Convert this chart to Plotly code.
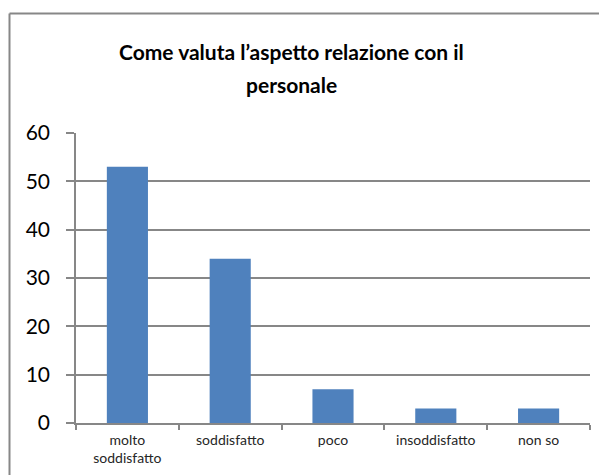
import plotly.graph_objects as go

# data
categories = ["molto<br>soddisfatto", "soddisfatto", "poco", "insoddisfatto", "non so"]
values = [53, 34, 7, 3, 3]
title_lines = ["Come valuta l\u2019aspetto relazione con il", "personale"]

font_family = "Lato, Carlito, Calibri, sans-serif"
grey = "#878787"

fig = go.Figure(
    go.Bar(
        x=categories,
        y=values,
        marker=dict(color="#4F81BD", line=dict(width=0)),
    )
)

# plot area is 76..590 x 133..423 px
fig.update_layout(
    width=599,
    height=475,
    margin=dict(l=76, r=9, t=133, b=52),
    paper_bgcolor="white",
    plot_bgcolor="white",
    bargap=0.6,
    showlegend=False,
    font=dict(family=font_family, color="black"),
)

fig.update_yaxes(
    range=[0, 60],
    tickvals=[0, 10, 20, 30, 40, 50, 60],
    showgrid=True,
    gridcolor=grey,
    gridwidth=1.5,
    showline=True,
    linecolor=grey,
    linewidth=1.5,
    ticks="outside",
    ticklen=8,
    tickcolor=grey,
    tickwidth=1.5,
    tickfont=dict(size=21, color="black"),
    ticklabelstandoff=12,
    zeroline=False,
    fixedrange=True,
)

fig.update_xaxes(
    showline=True,
    linecolor=grey,
    linewidth=1.5,
    ticks="outside",
    tickson="boundaries",
    ticklen=5,
    tickcolor=grey,
    tickwidth=1.5,
    tickfont=dict(size=14, color="#262626"),
    ticklabelstandoff=3,
    fixedrange=True,
)

# chart frame: only the left and top edges fall inside the picture
frame_x = (9.5 - 76) / 514
frame_y = (423 - 13.5) / 290
fig.add_shape(type="line", xref="paper", yref="paper",
              x0=frame_x, x1=frame_x, y0=-0.3, y1=frame_y,
              line=dict(color=grey, width=2), layer="below")
fig.add_shape(type="line", xref="paper", yref="paper",
              x0=frame_x, x1=1.1, y0=frame_y, y1=frame_y,
              line=dict(color=grey, width=2), layer="below")

# title, two lines
for text, ypix in zip(title_lines, [51, 84]):
    fig.add_annotation(
        text="<b>" + text + "</b>",
        xref="paper", yref="paper",
        x=(291 - 76) / 514,
        y=(423 - ypix) / 290,
        xanchor="center", yanchor="middle",
        showarrow=False,
        font=dict(size=21, family=font_family, color="black"),
    )

page_js = """
document.documentElement.style.overflow = 'hidden';
document.body.style.margin = '0';
document.body.style.overflow = 'hidden';
"""

fig.write_html(
    "out.html",
    config={"displayModeBar": False},
    post_script=page_js,
)
